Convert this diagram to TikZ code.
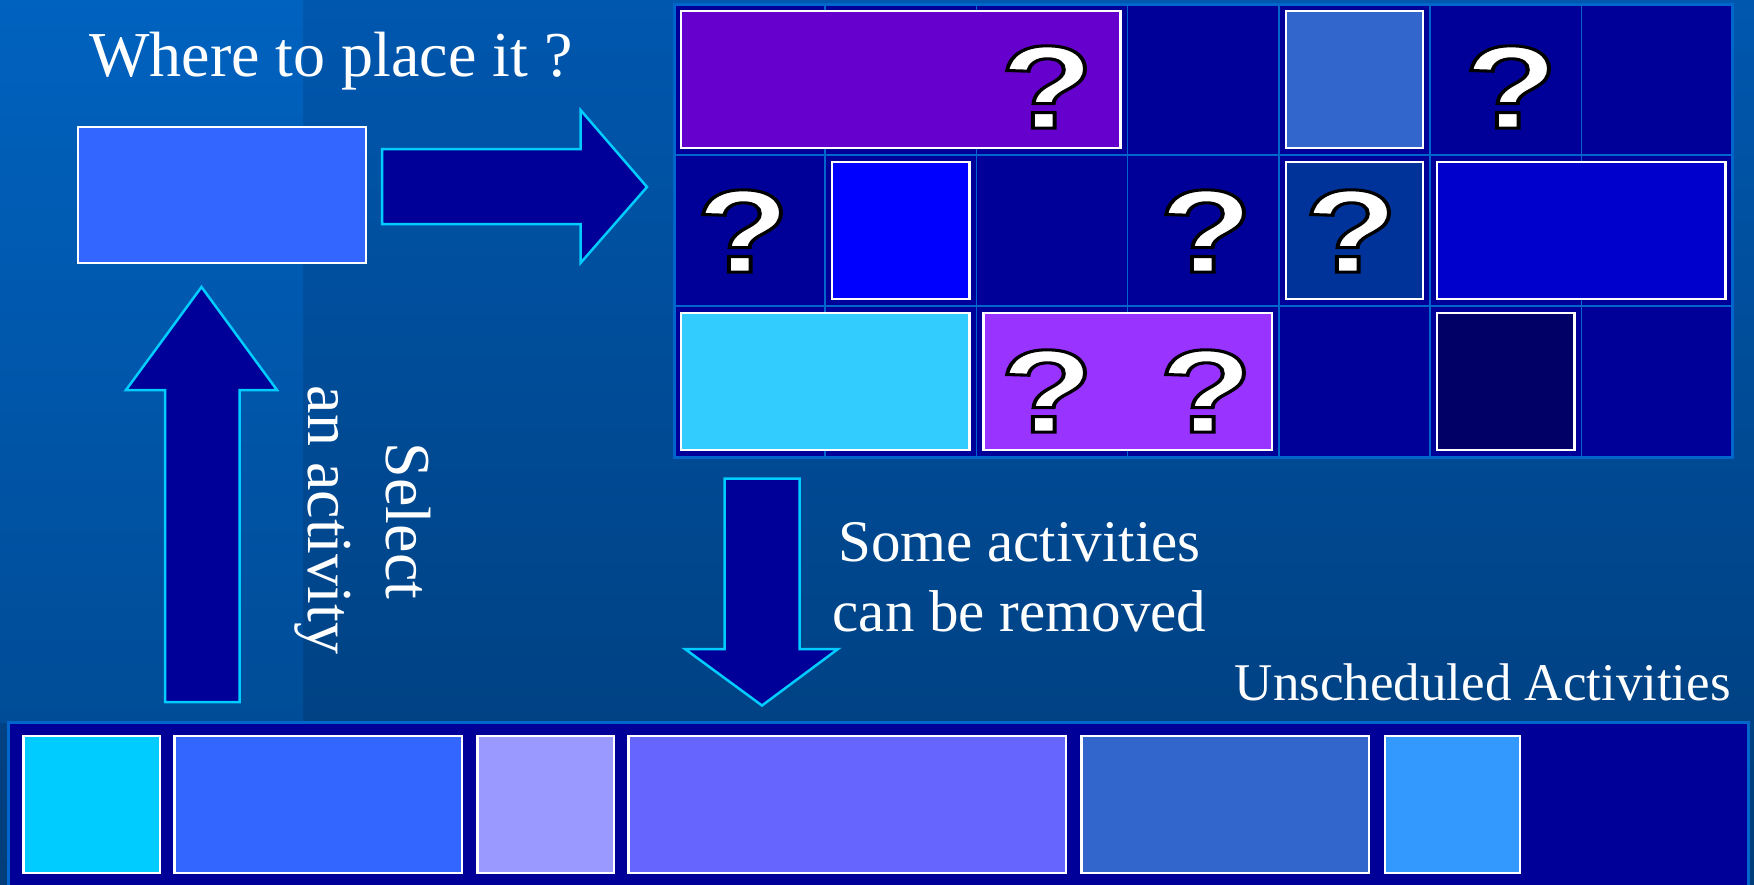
\documentclass[tikz,border=0pt]{standalone}
\usepackage{fontspec}
\setmainfont{Liberation Serif}
\newfontfamily\qfont{Liberation Sans}[FakeBold=2.6]
\usepackage{graphicx}
\definecolor{bgTop}{HTML}{0057AE}
\definecolor{bgBot}{HTML}{003D7A}
\definecolor{stripTop}{HTML}{0062BF}
\definecolor{stripBot}{HTML}{004C97}
\definecolor{cell}{HTML}{000099}
\definecolor{gridline}{HTML}{0066CC}
\definecolor{arrowedge}{HTML}{00CCFF}
\definecolor{cPurple}{HTML}{6600CC}
\definecolor{cSteel}{HTML}{3366CC}
\definecolor{cBlue}{HTML}{0000FF}
\definecolor{cDark}{HTML}{003399}
\definecolor{cMid}{HTML}{0000CC}
\definecolor{cSky}{HTML}{33CCFF}
\definecolor{cViolet}{HTML}{9933FF}
\definecolor{cNavy}{HTML}{000066}
\definecolor{cPlace}{HTML}{3366FF}
\definecolor{cCyan}{HTML}{00CCFF}
\definecolor{cLav}{HTML}{9999FF}
\definecolor{cPeri}{HTML}{6666FF}
\definecolor{cAzure}{HTML}{3399FF}
\tikzset{
  actbox/.style={draw=white, line width=2.5pt, inner sep=0pt, outer sep=0pt},
  blockarrow/.style={fill=cell, draw=arrowedge, line width=2.5pt, line join=miter},
  label/.style={text=white, inner sep=0pt},
  qmark/.style={inner sep=0pt},
}
\newcommand\actbox[6]{\node[actbox, fill=#2, minimum width={(#5-#3)*1pt}, minimum height={(#6-#4)*1pt}] (#1) at ({(#3+#5)/2},{(#4+#6)/2}) {};}
\newcommand\qm[2]{\node[qmark] (#1) at #2 {\scalebox{1.3}[1]{\special{pdf:bcolor [1] [0]}\qfont\bfseries\fontsize{118}{118}\selectfont ?\special{pdf:ecolor}}};}
\begin{document}
\begin{tikzpicture}[x=1pt, y=-1pt]
\useasboundingbox (0,0) rectangle (1754,884);
% background
\shade[top color=bgTop, bottom color=bgBot] (0,0) rectangle (1754,884);
\shade[top color=stripTop, bottom color=stripBot] (0,0) rectangle (303,722);
% grid
\fill[cell] (674,4) rectangle (1732.6,457);
\foreach \i in {1,...,6} {
  \draw[gridline, line width=1.5pt] ({674+151.23*\i},4) -- ({674+151.23*\i},457);
}
\foreach \y in {155,306} {
  \draw[gridline, line width=2pt] (674,\y) -- (1732.6,\y);
}
\draw[gridline, line width=3pt] (674,4) rectangle (1732.6,457);
% scheduled activities
\actbox{g1}{cPurple}{681}{11}{1120.7}{148}
\actbox{g2}{cSteel}{1285.9}{11}{1423.2}{148}
\actbox{g3}{cBlue}{832.2}{162}{969.5}{299}
\actbox{g4}{cDark}{1285.9}{162}{1423.2}{299}
\actbox{g5}{cMid}{1437.2}{162}{1725.6}{299}
\actbox{g6}{cSky}{681}{313}{969.5}{450}
\actbox{g7}{cViolet}{983.5}{313}{1271.9}{450}
\actbox{g8}{cNavy}{1437.2}{313}{1574.4}{450}
% question marks
\qm{q1}{(1047,87)}
\qm{q2}{(1511,87)}
\qm{q3}{(743,231)}
\qm{q4}{(1206,231)}
\qm{q5}{(1351,231)}
\qm{q6}{(1047,391)}
\qm{q7}{(1206,391)}
% activity to place
\actbox{place}{cPlace}{78}{127}{366}{263}
% arrows
\draw[blockarrow] (382,149) -- (580.5,149) -- (580.5,110) -- (647,187) -- (580.5,263) -- (580.5,224) -- (382,224) -- cycle;
\draw[blockarrow] (165,702) -- (165,390) -- (126,390) -- (201.5,287) -- (277,390) -- (239.5,390) -- (239.5,702) -- cycle;
\draw[blockarrow] (724.5,478.5) -- (799.7,478.5) -- (799.7,649) -- (838,649) -- (762,705.5) -- (685,649) -- (724.5,649) -- cycle;
% bottom bar
\draw[fill=cell, draw=gridline, line width=3pt] (8.5,722) rectangle (1748,892);
\actbox{u1}{cCyan}{23.5}{736}{160}{873}
\actbox{u2}{cPlace}{174.5}{736}{462}{873}
\actbox{u3}{cLav}{477.6}{736}{614}{873}
\actbox{u4}{cPeri}{628.6}{736}{1066}{873}
\actbox{u5}{cSteel}{1081.7}{736}{1369}{873}
\actbox{u6}{cAzure}{1384.8}{736}{1520}{873}
% texts
\node[label, anchor=base, font=\fontsize{64}{64}\selectfont] (where) at (331,76) {Where to place it ?};
\node[label, anchor=base, rotate=-90, font=\fontsize{64}{64}\selectfont] (sel1) at (386,521) {Select};
\node[label, anchor=base, rotate=-90, font=\fontsize{64}{64}\selectfont] (sel2) at (308,520) {an activity};
\node[label, anchor=base, font=\fontsize{59}{59}\selectfont] (rem1) at (1019.5,561.7) {Some activities};
\node[label, anchor=base, font=\fontsize{59}{59}\selectfont] (rem2) at (1019.5,631.7) {can be removed};
\node[label, anchor=base east, font=\fontsize{53}{53}\selectfont] (unsched) at (1731,700) {Unscheduled Activities};
\end{tikzpicture}
\end{document}
